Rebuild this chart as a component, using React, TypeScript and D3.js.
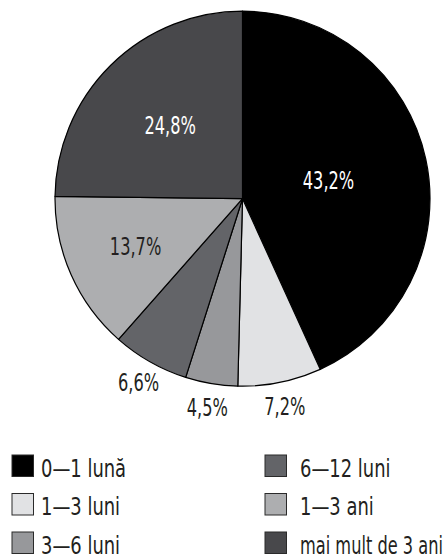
import React, { useLayoutEffect, useRef, useState } from 'react';
import * as d3 from 'd3';

const categories = ['0—1 lună', '1—3 luni', '3—6 luni', '6—12 luni', '1—3 ani', 'mai mult de 3 ani'];
const values = [43.2, 7.2, 4.5, 6.6, 13.7, 24.8];
const valueLabels = ['43,2%', '7,2%', '4,5%', '6,6%', '13,7%', '24,8%'];

const colors = ['#000000', '#e1e2e4', '#97989b', '#636468', '#adaeb0', '#48484b'];
const labelColors = ['#ffffff', '#231f20', '#231f20', '#231f20', '#231f20', '#ffffff'];
const labelRadii = [88, 212, 212, 211, 117, 103];

const W = 444;
const H = 555;
const CX = 242.5;
const CY = 198.7;
const R = 187.5;
const FONT = "'DejaVu Sans Condensed', 'DejaVu Sans', sans-serif";
const FS = 24;
const LABEL_SX = 0.75;
const LEGEND_SX = 0.83;
const legendCols = [12, 265];
const legendTextX = [41, 300];
const legendRowTop = 455;
const legendRowStep = 38.5;
const BOX = 21.5;

export default function App() {
  const pie = d3.pie<number>().sort(null).value((d) => d);
  const arcs = pie(values);
  const arcGen = d3.arc<d3.PieArcDatum<number>>().innerRadius(0).outerRadius(R);
  const textRefs = useRef<(SVGTextElement | null)[]>([]);
  const [scales, setScales] = useState<number[]>(categories.map(() => LEGEND_SX));

  useLayoutEffect(() => {
    const next = categories.map((_, i) => {
      const el = textRefs.current[i];
      if (!el) return LEGEND_SX;
      const col = Math.floor(i / 3);
      const maxW = W - 1 - legendTextX[col];
      const natural = el.getComputedTextLength();
      return Math.min(LEGEND_SX, maxW / natural);
    });
    setScales(next);
  }, []);

  return (
    <svg width={W} height={H} style={{ position: 'absolute', left: 0, top: 0, background: '#fff' }}>
      <g transform={`translate(${CX},${CY})`}>
        {arcs.map((a, i) => (
          <path key={i} d={arcGen(a) || ''} fill={colors[i]} stroke="#000" strokeWidth={1.2} strokeLinejoin="round" />
        ))}
        {arcs.map((a, i) => {
          const lr = labelRadii[i];
          const [x, y] = d3.arc<d3.PieArcDatum<number>>().innerRadius(lr).outerRadius(lr).centroid(a);
          return (
            <text
              key={'l' + i}
              transform={`translate(${x},${y}) scale(${LABEL_SX},1)`}
              textAnchor="middle"
              dy="0.36em"
              fontFamily={FONT}
              fontSize={FS}
              fill={labelColors[i]}
            >
              {valueLabels[i]}
            </text>
          );
        })}
      </g>
      <g>
        {categories.map((c, i) => {
          const col = Math.floor(i / 3);
          const row = i % 3;
          const top = legendRowTop + row * legendRowStep;
          return (
            <g key={'lg' + i}>
              <rect x={legendCols[col]} y={top} width={BOX} height={BOX} fill={colors[i]} stroke="#2a2a2a" strokeWidth={1} />
              <text
                ref={(el) => { textRefs.current[i] = el; }}
                transform={`translate(${legendTextX[col]},${top + 21.5}) scale(${scales[i]},1)`}
                fontFamily={FONT}
                fontSize={FS}
                fill="#231f20"
              >
                {c}
              </text>
            </g>
          );
        })}
      </g>
    </svg>
  );
}
